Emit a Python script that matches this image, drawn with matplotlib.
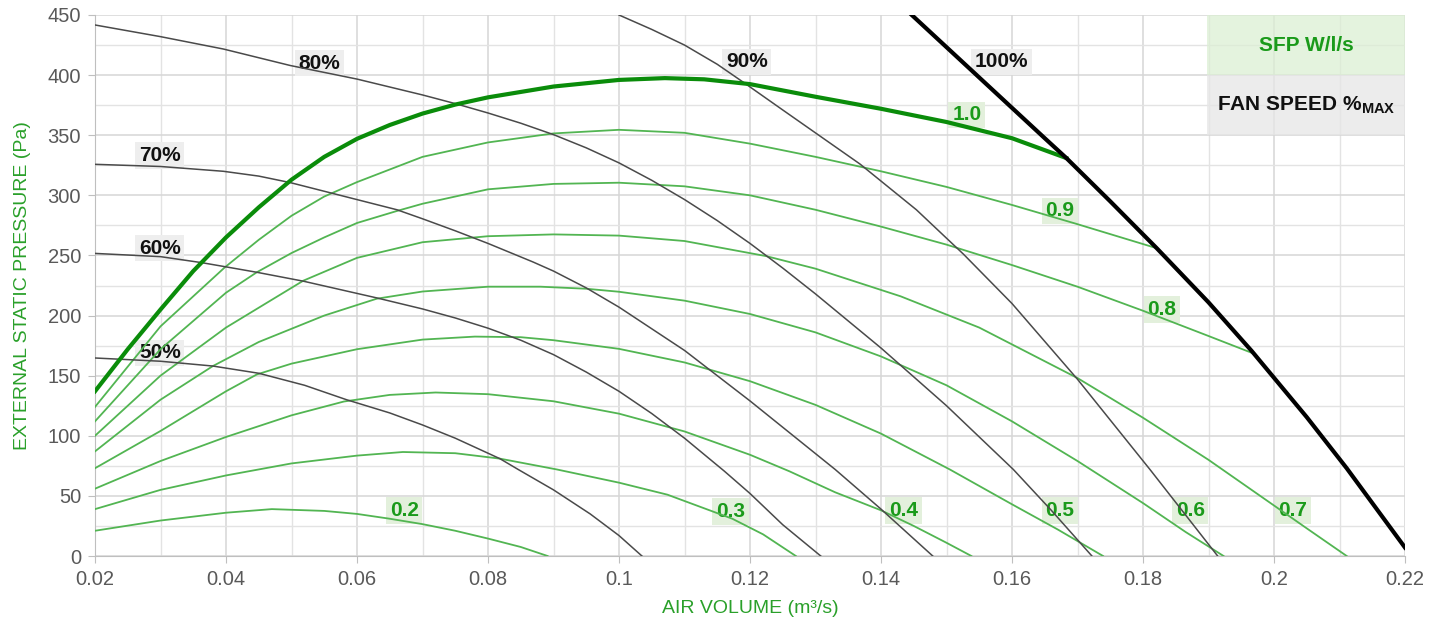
import matplotlib
matplotlib.use("Agg")
import matplotlib.pyplot as plt
from matplotlib.patches import Rectangle

plt.rcParams['font.family'] = ['Liberation Sans', 'DejaVu Sans']
plt.rcParams['mathtext.fontset'] = 'custom'
plt.rcParams['mathtext.rm'] = 'Liberation Sans'
plt.rcParams['mathtext.bf'] = 'Liberation Sans:bold'

# ---------------- data ----------------
# SFP (W/l/s) iso-curves
sfp_02_x = [0.02, 0.03, 0.04, 0.047, 0.055, 0.06, 0.065, 0.07, 0.075, 0.08, 0.085, 0.0891]
sfp_02_y = [21, 29.5, 36, 39, 37.5, 35, 31, 26.5, 21, 14.5, 7.5, 0]

sfp_03_x = [0.02, 0.03, 0.04, 0.05, 0.06, 0.067, 0.075, 0.0818, 0.0905, 0.1, 0.1074, 0.1173, 0.122, 0.127]
sfp_03_y = [39, 55, 67, 77, 83.5, 86.5, 85.5, 81, 72, 61, 51, 31, 18, 0]

sfp_04_x = [0.02, 0.03, 0.04, 0.05, 0.058, 0.065, 0.072, 0.08, 0.09, 0.1, 0.11, 0.12, 0.126, 0.133, 0.14, 0.145, 0.15, 0.1538]
sfp_04_y = [56, 79, 99, 117, 128.5, 134, 136, 134.6, 128.7, 118.4, 103.6, 84.2, 70.5, 53, 38, 25, 11, 0]

sfp_05_x = [0.02, 0.03, 0.04, 0.0447, 0.05, 0.06, 0.07, 0.078, 0.085, 0.09, 0.1, 0.11, 0.12, 0.13, 0.14, 0.1505, 0.16, 0.167, 0.1739]
sfp_05_y = [73, 104, 137, 151, 160, 172, 180, 182.5, 182, 179.5, 172.3, 161, 145.4, 125.7, 101.8, 72, 43, 22, 0]

sfp_06_x = [0.02, 0.03, 0.038, 0.045, 0.05, 0.055, 0.063, 0.07, 0.08, 0.088, 0.095, 0.1, 0.11, 0.12, 0.13, 0.14, 0.15, 0.16, 0.17, 0.18, 0.1865, 0.1923]
sfp_06_y = [87, 130, 158, 178, 189, 200, 214, 220, 224, 224, 222.3, 219.8, 212.4, 201.3, 186, 166, 142, 112, 79, 44, 20, 0]

sfp_07_x = [0.02, 0.03, 0.04, 0.0518, 0.06, 0.07, 0.08, 0.09, 0.1, 0.11, 0.1225, 0.13, 0.143, 0.155, 0.17, 0.18, 0.19, 0.2, 0.205, 0.2111]
sfp_07_y = [100, 150, 190, 229, 248, 261, 266, 267.5, 266.5, 262, 249.4, 239, 216, 190, 148, 115, 80, 42, 23, 0]

sfp_08_x = [0.02, 0.03, 0.04, 0.0447, 0.05, 0.055, 0.06, 0.0661, 0.07, 0.08, 0.09, 0.1, 0.11, 0.12, 0.13, 0.14, 0.15, 0.16, 0.17, 0.18, 0.19, 0.1966]
sfp_08_y = [112, 172, 219, 236, 252, 265, 277, 287, 293, 305, 309.5, 310.5, 307.5, 300, 288, 274, 259, 242, 224, 204, 183, 169]

sfp_09_x = [0.02, 0.03, 0.0398, 0.045, 0.05, 0.055, 0.06, 0.07, 0.08, 0.09, 0.1, 0.11, 0.12, 0.13, 0.14, 0.15, 0.16, 0.17, 0.1821]
sfp_09_y = [124, 191, 240, 263, 283, 299, 311, 332, 344, 351.5, 354.5, 352, 343, 332, 320, 307, 292, 276, 256]

sfp_10_x = [0.02, 0.025, 0.03, 0.035, 0.04, 0.045, 0.05, 0.055, 0.06, 0.065, 0.07, 0.075, 0.08, 0.09, 0.1, 0.107, 0.113, 0.12, 0.13, 0.14, 0.15, 0.16, 0.1683]
sfp_10_y = [137, 172, 205, 237, 265, 290, 313, 332, 347, 358.5, 368, 375.5, 381.5, 390.5, 396, 397.5, 396.5, 392.5, 382, 372, 361, 347.5, 331]

# Fan speed curves (% of max)
fan_50_x = [0.02, 0.03, 0.038, 0.045, 0.052, 0.0584, 0.065, 0.07, 0.075, 0.0818, 0.0846, 0.09, 0.0956, 0.1, 0.1035]
fan_50_y = [164.7, 162, 158, 152, 142, 130, 119, 109, 98, 81, 72, 55, 35, 17, 0]

fan_60_x = [0.02, 0.03, 0.0363, 0.04, 0.0447, 0.0518, 0.063, 0.07, 0.075, 0.08, 0.085, 0.09, 0.095, 0.1, 0.105, 0.11, 0.1161, 0.12, 0.125, 0.1308]
fan_60_y = [251.7, 249, 244, 240.5, 236, 228.6, 214.7, 205.5, 198, 189.5, 179.5, 167.5, 153, 137, 118.5, 98, 70.5, 52, 26, 0]

fan_70_x = [0.02, 0.03, 0.0396, 0.045, 0.0498, 0.056, 0.0661, 0.07, 0.075, 0.08, 0.0869, 0.09, 0.095, 0.1, 0.11, 0.12, 0.133, 0.14, 0.1479]
fan_70_y = [325.8, 324, 320, 316, 310.6, 302, 288, 280.5, 270.5, 260, 244.5, 237, 223, 207, 171, 129, 72, 39, 0]

fan_80_x = [0.02, 0.03, 0.0396, 0.0498, 0.06, 0.07, 0.0752, 0.08, 0.085, 0.09, 0.095, 0.1, 0.105, 0.11, 0.115, 0.12, 0.125, 0.13, 0.14, 0.15, 0.1602, 0.166, 0.1722]
fan_80_y = [441.7, 432, 421.7, 408, 396.7, 383.5, 376, 368.5, 360, 350.5, 339.5, 327, 312.5, 296.5, 279, 260, 239.5, 218, 173, 125, 72, 38, 0]

fan_90_x = [0.1, 0.105, 0.11, 0.115, 0.119, 0.125, 0.1368, 0.1454, 0.1526, 0.16, 0.17, 0.1811, 0.1914]
fan_90_y = [450, 438, 425, 409, 394, 371, 326, 288, 251, 210, 147, 71.7, 0]

fan_100_x = [0.1447, 0.155, 0.165, 0.1683, 0.175, 0.1821, 0.19, 0.1966, 0.205, 0.2111, 0.22]
fan_100_y = [450, 398, 347.5, 331, 295, 256, 211, 170.5, 115.5, 73, 7]

# Curve labels: text, x, y
fan_labels = [("80%", 0.0543, 410), ("70%", 0.0299, 333), ("60%", 0.0299, 256),
              ("50%", 0.0299, 169), ("90%", 0.1195, 411), ("100%", 0.1584, 411)]
sfp_labels = [("1.0", 0.1531, 367), ("0.9", 0.1673, 287), ("0.8", 0.1829, 205),
              ("0.2", 0.0672, 38), ("0.3", 0.117, 37), ("0.4", 0.1434, 38),
              ("0.5", 0.1673, 38), ("0.6", 0.1872, 38), ("0.7", 0.2029, 38)]

x_ticks = [0.02, 0.04, 0.06, 0.08, 0.1, 0.12, 0.14, 0.16, 0.18, 0.2, 0.22]
x_tick_labels = ["0.02", "0.04", "0.06", "0.08", "0.1", "0.12", "0.14", "0.16", "0.18", "0.2", "0.22"]
y_ticks = [0, 50, 100, 150, 200, 250, 300, 350, 400, 450]

# ---------------- styling ----------------
GREEN_THIN = '#52b552'
GREEN_THICK = '#0a8c0a'
GREEN_TXT = '#1a9a1a'
GREY_LINE = '#4a4a4a'
AXIS_GREEN = '#2aa02a'

fig = plt.figure(figsize=(14.41, 6.30), dpi=100)
ax = fig.add_axes([95 / 1441, 74 / 630, 1310 / 1441, 541 / 630])
ax.set_xlim(0.02, 0.22)
ax.set_ylim(0, 450)

ax.set_xticks(x_ticks)
ax.set_xticklabels(x_tick_labels)
ax.set_yticks(y_ticks)
ax.set_xticks([0.03 + 0.02 * i for i in range(10)], minor=True)
ax.set_yticks([25 + 50 * i for i in range(9)], minor=True)
ax.grid(which='major', color='#d6d6d6', lw=1.1, zorder=0)
ax.grid(which='minor', color='#e3e3e3', lw=1.0, zorder=0)
ax.set_axisbelow(True)
ax.tick_params(axis='both', which='major', labelsize=14.5, colors='#595959', length=5, color='#bfbfbf', pad=5)
ax.tick_params(axis='both', which='minor', length=0)
for s in ['top', 'right']:
    ax.spines[s].set_visible(False)
for s in ['left', 'bottom']:
    ax.spines[s].set_color('#bfbfbf')

ax.set_xlabel("AIR VOLUME (m³/s)", color=AXIS_GREEN, fontsize=14, labelpad=8)
ax.set_ylabel("EXTERNAL STATIC PRESSURE (Pa)", color=AXIS_GREEN, fontsize=14, labelpad=12)

sfp_curves = [(sfp_02_x, sfp_02_y), (sfp_03_x, sfp_03_y), (sfp_04_x, sfp_04_y),
              (sfp_05_x, sfp_05_y), (sfp_06_x, sfp_06_y), (sfp_07_x, sfp_07_y),
              (sfp_08_x, sfp_08_y), (sfp_09_x, sfp_09_y)]
for xs, ys in sfp_curves:
    ax.plot(xs, ys, color=GREEN_THIN, lw=1.3, zorder=3, solid_joinstyle='round')
ax.plot(sfp_10_x, sfp_10_y, color=GREEN_THICK, lw=3.0, zorder=4, solid_joinstyle='round')

for xs, ys in [(fan_50_x, fan_50_y), (fan_60_x, fan_60_y), (fan_70_x, fan_70_y),
               (fan_80_x, fan_80_y), (fan_90_x, fan_90_y)]:
    ax.plot(xs, ys, color=GREY_LINE, lw=1.1, zorder=3, solid_joinstyle='round')
ax.plot(fan_100_x, fan_100_y, color='black', lw=3.0, zorder=4, solid_joinstyle='round')

for t, x, y in fan_labels:
    ax.text(x, y, t, ha='center', va='center', fontsize=15, fontweight='bold', color='#111111',
            zorder=2.5, bbox=dict(boxstyle='square,pad=0.18', fc='#eeeeee', ec='none'))
for t, x, y in sfp_labels:
    ax.text(x, y, t, ha='center', va='center', fontsize=15, fontweight='bold', color=GREEN_TXT,
            zorder=2.5, bbox=dict(boxstyle='square,pad=0.18', fc='#e3f0dc', ec='none'))

# key boxes (top right)
ax.add_patch(Rectangle((0.1898, 400), 0.0302, 50, fc='#dcefd4', ec='none', alpha=0.75, zorder=1))
ax.add_patch(Rectangle((0.1898, 350), 0.0302, 50, fc='#e6e6e6', ec='none', alpha=0.75, zorder=1))
ax.text(0.2049, 425, "SFP W/l/s", ha='center', va='center', fontsize=15, fontweight='bold',
        color=GREEN_TXT, zorder=5)
ax.text(0.2049, 375, r"FAN SPEED %$_{\mathbf{MAX}}$", ha='center', va='center', fontsize=15,
        fontweight='bold', color='#111111', zorder=5)

fig.savefig("out.png", dpi=100)
